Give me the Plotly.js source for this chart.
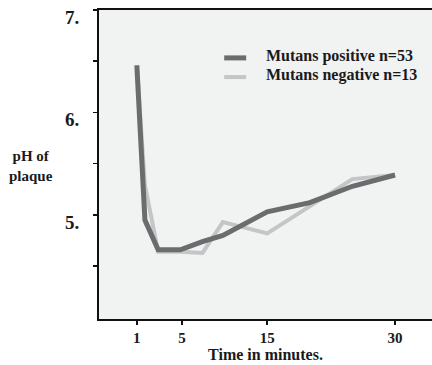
<!DOCTYPE html>
<html>
<head>
<meta charset="utf-8">
<script src="https://cdn.plot.ly/plotly-3.0.1.min.js"></script>
<style>
  html, body { margin: 0; padding: 0; background: #ffffff; }
  #chart { width: 432px; height: 365px; }
</style>
</head>
<body>
<div id="chart"></div>
<script>
// Sampling times, placed on the minute axis (first sample sits under the "1" tick)
const time = [-0.3, 0.65, 2.2, 4.8, 7.4, 9.8, 15, 20, 25, 30];

// Mean plaque pH per group
const phPositive = [6.46, 4.95, 4.66, 4.66, 4.74, 4.80, 5.03, 5.12, 5.28, 5.39];
const phNegative = [6.46, 5.29, 4.64, 4.64, 4.63, 4.93, 4.82, 5.08, 5.35, 5.39];

const seriesNames = ['Mutans positive n=53', 'Mutans negative n=13'];

// Axis ticks
const xTickVals = [-0.3, 5, 15, 30];
const xTickText = ['1', '5', '15', '30'];
const yTickVals = [4.5, 5, 5.5, 6, 6.5, 6.999];
const yTickText = ['', '5.', '', '6.', '', '7.'];

const darkGrey = '#6b6c6e';
const lightGrey = '#c4c5c6';
const serif = 'Liberation Serif, Times New Roman, serif';
const ink = '#1a1a1a';

const traces = [
  {
    x: time, y: phNegative, name: seriesNames[1],
    type: 'scatter', mode: 'lines',
    line: { color: lightGrey, width: 4 },
    showlegend: false, hoverinfo: 'skip'
  },
  {
    x: time, y: phPositive, name: seriesNames[0],
    type: 'scatter', mode: 'lines',
    line: { color: darkGrey, width: 5 },
    showlegend: false, hoverinfo: 'skip'
  }
];

// Hand-placed key in the upper right of the plot
const keyX0 = 0.376, keyX1 = 0.442, keyText = 0.496;
const keyY = [0.845, 0.783];

const layout = {
  width: 432, height: 365,
  margin: { l: 99, r: 0, t: 10, b: 46 },
  paper_bgcolor: '#ffffff',
  plot_bgcolor: '#f1f2f2',
  showlegend: false,
  xaxis: {
    range: [-4.74, 34.34],
    tickmode: 'array', tickvals: xTickVals, ticktext: xTickText,
    ticks: 'outside', ticklen: 4, tickwidth: 1.5, tickcolor: '#111',
    showline: true, linecolor: '#111', linewidth: 2, mirror: true,
    showgrid: false, zeroline: false,
    tickfont: { family: serif, size: 15, color: ink, weight: 'bold' },
    title: { text: 'Time in minutes.', standoff: 2,
             font: { family: serif, size: 16, color: ink, weight: 'bold' } }
  },
  yaxis: {
    range: [3.985, 7.0],
    tickmode: 'array', tickvals: yTickVals, ticktext: yTickText,
    ticks: 'outside', ticklen: 4, tickwidth: 1.5, tickcolor: '#111',
    showline: true, linecolor: '#111', linewidth: 2, mirror: false,
    showgrid: false, zeroline: false,
    ticklabelshift: 7,
    ticklabelstandoff: 10,
    tickfont: { family: serif, size: 19, color: ink, weight: 'bold' }
  },
  shapes: [
    { type: 'line', xref: 'paper', yref: 'paper', x0: keyX0, x1: keyX1, y0: keyY[0], y1: keyY[0],
      line: { color: darkGrey, width: 5 } },
    { type: 'line', xref: 'paper', yref: 'paper', x0: keyX0, x1: keyX1, y0: keyY[1], y1: keyY[1],
      line: { color: lightGrey, width: 4 } }
  ],
  annotations: [
    { text: seriesNames[0], xref: 'paper', yref: 'paper', x: keyText, y: keyY[0] + 0.006,
      xanchor: 'left', yanchor: 'middle', showarrow: false,
      font: { family: serif, size: 16, color: ink, weight: 'bold' } },
    { text: seriesNames[1], xref: 'paper', yref: 'paper', x: keyText, y: keyY[1] + 0.006,
      xanchor: 'left', yanchor: 'middle', showarrow: false,
      font: { family: serif, size: 16, color: ink, weight: 'bold' } },
    { text: 'pH of<br>plaque', xref: 'paper', yref: 'paper', x: -0.204, y: 0.495,
      xanchor: 'center', yanchor: 'middle', showarrow: false, align: 'center',
      font: { family: serif, size: 15, color: ink, weight: 'bold' } }
  ]
};

Plotly.newPlot('chart', traces, layout, { displayModeBar: false, staticPlot: true });
</script>
</body>
</html>
